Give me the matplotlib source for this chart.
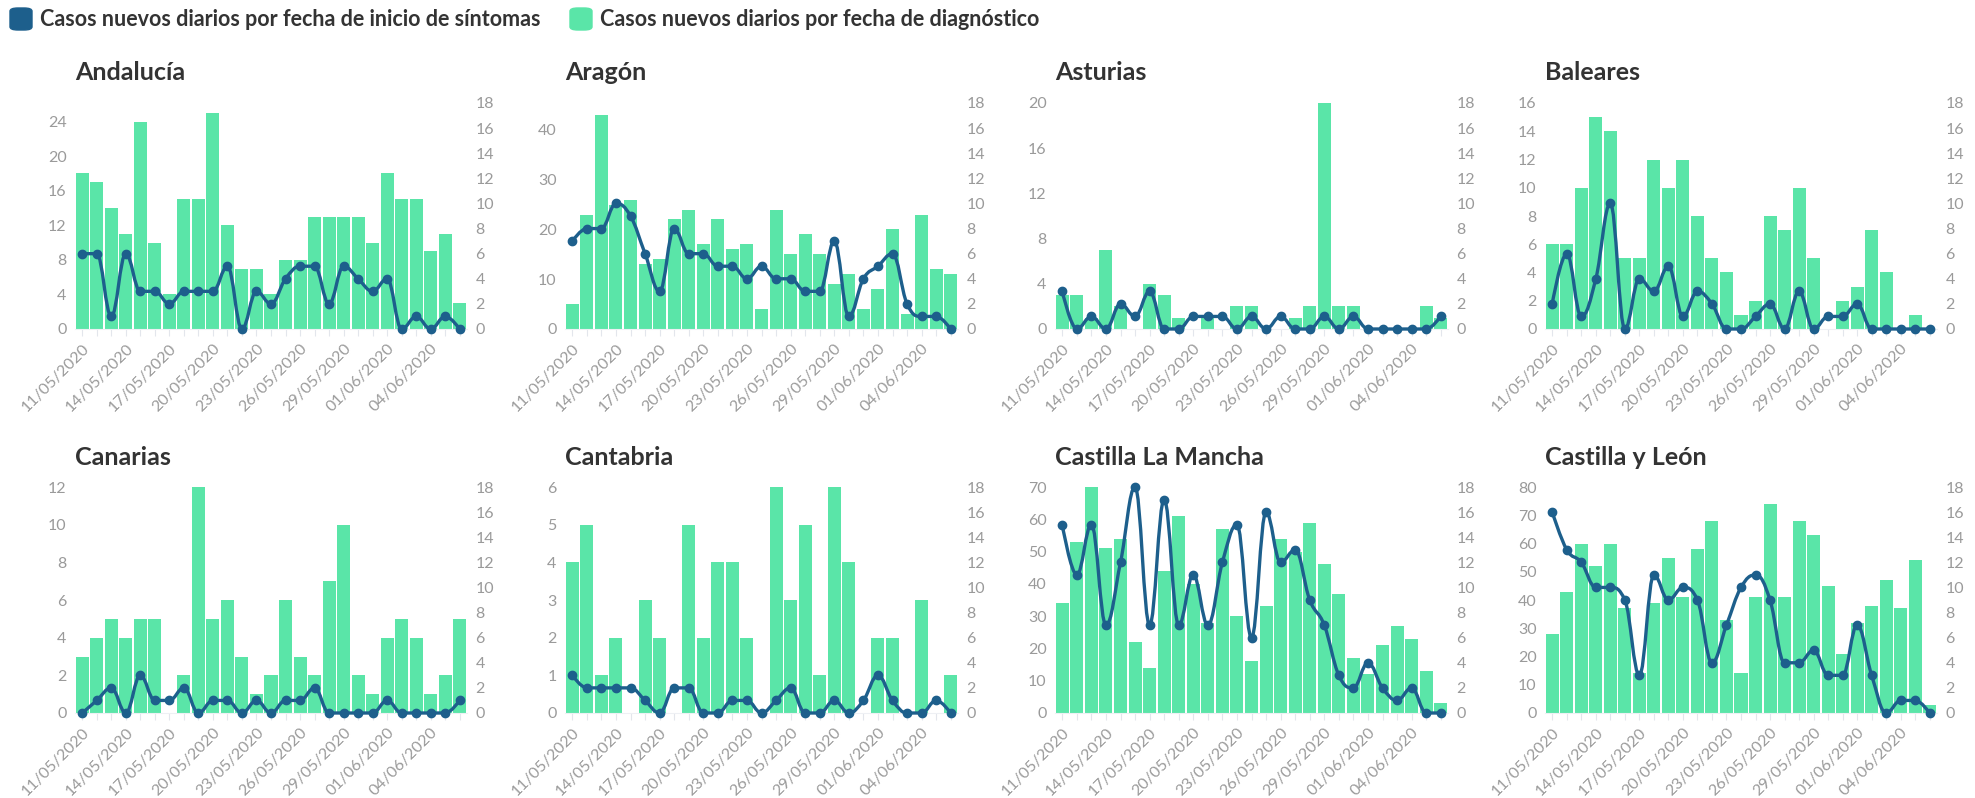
import matplotlib.pyplot as plt
from matplotlib.patches import FancyBboxPatch, PathPatch
from matplotlib.path import Path
import numpy as np

plt.rcParams['font.family'] = ['Lato', 'DejaVu Sans']

# ------------------------------------------
# DATA
# ------------------------------------------
fechas = ['11/05/2020', '12/05/2020', '13/05/2020', '14/05/2020', '15/05/2020',
          '16/05/2020', '17/05/2020', '18/05/2020', '19/05/2020', '20/05/2020',
          '21/05/2020', '22/05/2020', '23/05/2020', '24/05/2020', '25/05/2020',
          '26/05/2020', '27/05/2020', '28/05/2020', '29/05/2020', '30/05/2020',
          '31/05/2020', '01/06/2020', '02/06/2020', '03/06/2020', '04/06/2020',
          '05/06/2020', '06/06/2020']

regiones = ['Andalucía', 'Aragón', 'Asturias', 'Baleares',
            'Canarias', 'Cantabria', 'Castilla La Mancha', 'Castilla y León']

# casos por fecha de diagnóstico (barras, eje izquierdo)
diag_andalucia = [18, 17, 14, 11, 24, 10, 4, 15, 15, 25, 12, 7, 7, 4, 8, 8, 13, 13, 13, 13, 10, 18, 15, 15, 9, 11, 3]
diag_aragon = [5, 23, 43, 25, 26, 13, 14, 22, 24, 17, 22, 16, 17, 4, 24, 15, 19, 15, 9, 11, 4, 8, 20, 3, 23, 12, 11]
diag_asturias = [3, 3, 1, 7, 2, 0, 4, 3, 1, 0, 1, 0, 2, 2, 0, 0, 1, 2, 20, 2, 2, 0, 0, 0, 0, 2, 1]
diag_baleares = [6, 6, 10, 15, 14, 5, 5, 12, 10, 12, 8, 5, 4, 1, 2, 8, 7, 10, 5, 0, 2, 3, 7, 4, 0, 1, 0]
diag_canarias = [3, 4, 5, 4, 5, 5, 0, 2, 12, 5, 6, 3, 1, 2, 6, 3, 2, 7, 10, 2, 1, 4, 5, 4, 1, 2, 5]
diag_cantabria = [4, 5, 1, 2, 0, 3, 2, 0, 5, 2, 4, 4, 2, 0, 6, 3, 5, 1, 6, 4, 0, 2, 2, 0, 3, 0, 1]
diag_clm = [34, 53, 70, 51, 54, 22, 14, 44, 61, 40, 28, 57, 30, 16, 33, 54, 50, 59, 46, 37, 17, 12, 21, 27, 23, 13, 3]
diag_cyl = [28, 43, 60, 52, 60, 37, 14, 39, 55, 41, 58, 68, 33, 14, 41, 74, 41, 68, 63, 45, 21, 32, 38, 47, 37, 54, 3]

# casos por fecha de inicio de síntomas (línea, eje derecho)
sint_andalucia = [6, 6, 1, 6, 3, 3, 2, 3, 3, 3, 5, 0, 3, 2, 4, 5, 5, 2, 5, 4, 3, 4, 0, 1, 0, 1, 0]
sint_aragon = [7, 8, 8, 10, 9, 6, 3, 8, 6, 6, 5, 5, 4, 5, 4, 4, 3, 3, 7, 1, 4, 5, 6, 2, 1, 1, 0]
sint_asturias = [3, 0, 1, 0, 2, 1, 3, 0, 0, 1, 1, 1, 0, 1, 0, 1, 0, 0, 1, 0, 1, 0, 0, 0, 0, 0, 1]
sint_baleares = [2, 6, 1, 4, 10, 0, 4, 3, 5, 1, 3, 2, 0, 0, 1, 2, 0, 3, 0, 1, 1, 2, 0, 0, 0, 0, 0]
sint_canarias = [0, 1, 2, 0, 3, 1, 1, 2, 0, 1, 1, 0, 1, 0, 1, 1, 2, 0, 0, 0, 0, 1, 0, 0, 0, 0, 1]
sint_cantabria = [3, 2, 2, 2, 2, 1, 0, 2, 2, 0, 0, 1, 1, 0, 1, 2, 0, 0, 1, 0, 1, 3, 1, 0, 0, 1, 0]
sint_clm = [15, 11, 15, 7, 12, 18, 7, 17, 7, 11, 7, 12, 15, 6, 16, 12, 13, 9, 7, 3, 2, 4, 2, 1, 2, 0, 0]
sint_cyl = [16, 13, 12, 10, 10, 9, 3, 11, 9, 10, 9, 4, 7, 10, 11, 9, 4, 4, 5, 3, 3, 7, 3, 0, 1, 1, 0]

diagnostico = [diag_andalucia, diag_aragon, diag_asturias, diag_baleares,
               diag_canarias, diag_cantabria, diag_clm, diag_cyl]
sintomas = [sint_andalucia, sint_aragon, sint_asturias, sint_baleares,
            sint_canarias, sint_cantabria, sint_clm, sint_cyl]

# left axis: (max, tick step)
left_axis = [(26.15, 4), (45.4, 10), (20, 4), (16, 2),
             (12, 2), (6, 1), (70, 10), (80, 10)]

BAR_COLOR = '#5ae5a8'
LINE_COLOR = '#1d5f8c'
TICK_COLOR = '#9a9a9a'
TITLE_COLOR = '#333333'


def spline_path(xs, ys, smoothing=1.5):
    """Smooth curve through the points (same control-point rule as a Highcharts spline)."""
    n = len(xs)
    denom = smoothing + 1
    left = [(xs[k], ys[k]) for k in range(n)]
    right = [(xs[k], ys[k]) for k in range(n)]
    for k in range(1, n - 1):
        px, py = xs[k], ys[k]
        lx, ly = xs[k - 1], ys[k - 1]
        nx, ny = xs[k + 1], ys[k + 1]
        lcx = (smoothing * px + lx) / denom
        lcy = (smoothing * py + ly) / denom
        rcx = (smoothing * px + nx) / denom
        rcy = (smoothing * py + ny) / denom
        corr = (rcy - lcy) * (rcx - px) / (rcx - lcx) + py - rcy
        lcy += corr
        rcy += corr
        if lcy > ly and lcy > py:
            lcy = max(ly, py)
            rcy = 2 * py - lcy
        elif lcy < ly and lcy < py:
            lcy = min(ly, py)
            rcy = 2 * py - lcy
        if rcy > ny and rcy > py:
            rcy = max(ny, py)
            lcy = 2 * py - rcy
        elif rcy < ny and rcy < py:
            rcy = min(ny, py)
            lcy = 2 * py - rcy
        left[k] = (lcx, lcy)
        right[k] = (rcx, rcy)
    verts = [(xs[0], ys[0])]
    codes = [Path.MOVETO]
    for k in range(1, n):
        verts += [right[k - 1], left[k], (xs[k], ys[k])]
        codes += [Path.CURVE4] * 3
    return Path(verts, codes)


# ------------------------------------------
# FIGURE
# ------------------------------------------
W, H = 1975, 798
fig = plt.figure(figsize=(W / 100, H / 100), dpi=100)

col_px = [(75, 467), (565, 958), (1055, 1448), (1545, 1937)]
row_px = [(103, 329), (487, 713)]

x = np.arange(len(fechas))
for i, region in enumerate(regiones):
    r, c = divmod(i, 4)
    x0, x1 = col_px[c]
    y0, y1 = row_px[r]
    ax = fig.add_axes([x0 / W, 1 - y1 / H, (x1 - x0) / W, (y1 - y0) / H])

    ax.bar(x, diagnostico[i], width=0.9, color=BAR_COLOR, zorder=2)
    ymax, step = left_axis[i]
    ax.set_ylim(0, ymax)
    ax.set_yticks(np.arange(0, ymax + 0.01, step))
    ax.set_xlim(-0.5, len(fechas) - 0.5)

    ax.set_xticks(x)
    ax.set_xticklabels([f if k % 3 == 0 else '' for k, f in enumerate(fechas)],
                       rotation=45, ha='right', rotation_mode='anchor',
                       fontsize=11.5, color=TICK_COLOR)
    ax.tick_params(axis='x', length=5, color='#e3e6ec', pad=4)
    ax.tick_params(axis='y', length=0, labelsize=11.5, labelcolor=TICK_COLOR, pad=6)
    for s in ['top', 'right', 'left']:
        ax.spines[s].set_visible(False)
    ax.spines['bottom'].set_color('#eef0f4')

    ax2 = ax.twinx()
    ax2.add_patch(PathPatch(spline_path(x, sintomas[i]), facecolor='none',
                            edgecolor=LINE_COLOR, lw=2.4, zorder=3, clip_on=False,
                            capstyle='round', joinstyle='round'))
    ax2.plot(x, sintomas[i], ls='none', color=LINE_COLOR, marker='o', ms=6,
             zorder=4, clip_on=False)
    ax2.set_ylim(0, 18)
    ax2.set_yticks(np.arange(0, 19, 2))
    ax2.tick_params(axis='y', length=0, labelsize=11.5, labelcolor=TICK_COLOR, pad=6)
    for s in ax2.spines.values():
        s.set_visible(False)

    ax.text(0, 1 + 30 / (y1 - y0), region, transform=ax.transAxes,
            ha='left', va='center', fontsize=18, fontweight='bold', color=TITLE_COLOR)

# ------------------------------------------
# LEGEND
# ------------------------------------------
legend_items = [('Casos nuevos diarios por fecha de inicio de síntomas', LINE_COLOR, 10),
                ('Casos nuevos diarios por fecha de diagnóstico', BAR_COLOR, 570)]
for label, color, lx in legend_items:
    box = FancyBboxPatch((lx / W, 1 - 30 / H), 22 / W, 22 / H,
                         boxstyle='round,pad=0,rounding_size=0.004',
                         transform=fig.transFigure, color=color)
    fig.patches.append(box)
    fig.text((lx + 30) / W, 1 - 19 / H, label, ha='left', va='center',
             fontsize=15.5, fontweight='bold', color='#333333')

fig.savefig('out.png', dpi=100)
